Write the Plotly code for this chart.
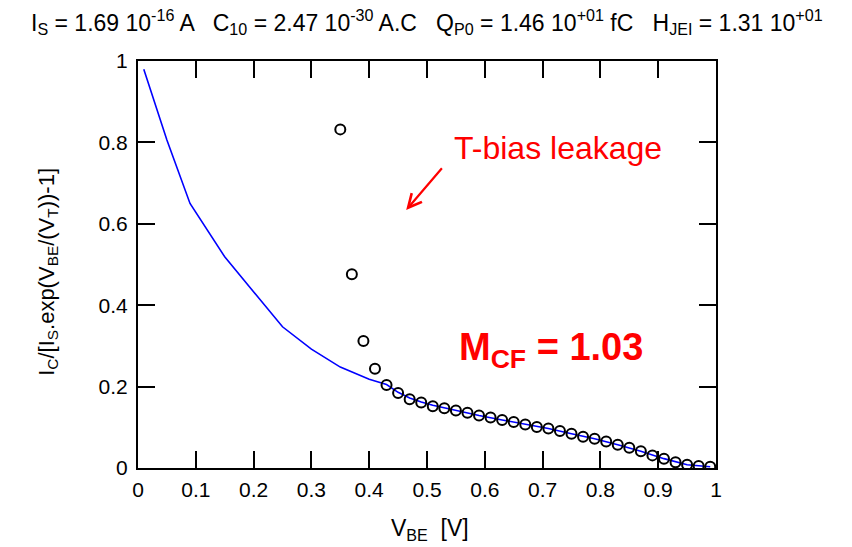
import plotly.graph_objects as go

# Measured data (open circles)
vbe_meas = [0.35, 0.37, 0.39, 0.41, 0.43, 0.45, 0.47, 0.49, 0.51, 0.53, 0.55, 0.57,
            0.59, 0.61, 0.63, 0.65, 0.67, 0.69, 0.71, 0.73, 0.75, 0.77, 0.79, 0.81,
            0.83, 0.85, 0.87, 0.89, 0.91, 0.93, 0.95, 0.97, 0.99]
ratio_meas = [0.832, 0.476, 0.312, 0.244, 0.204, 0.184, 0.169, 0.161, 0.152, 0.147, 0.141, 0.136,
              0.129, 0.124, 0.118, 0.113, 0.107, 0.101, 0.097, 0.091, 0.084, 0.077, 0.072, 0.065,
              0.057, 0.050, 0.041, 0.031, 0.023, 0.014, 0.008, 0.005, 0.003]

# Model curve (blue line)
vbe_model = [0.01, 0.05, 0.09, 0.15, 0.25, 0.30, 0.35, 0.40, 0.43, 0.45, 0.47, 0.49, 0.51,
             0.55, 0.59, 0.63, 0.67, 0.71, 0.75, 0.79, 0.83, 0.87, 0.91, 0.95, 0.99]
ratio_model = [0.980, 0.806, 0.650, 0.519, 0.347, 0.292, 0.248, 0.218, 0.205, 0.186, 0.172, 0.162, 0.154,
               0.141, 0.129, 0.118, 0.107, 0.097, 0.084, 0.072, 0.057, 0.041, 0.023, 0.008, 0.003]

x_ticks = [0, 0.1, 0.2, 0.3, 0.4, 0.5, 0.6, 0.7, 0.8, 0.9, 1]
x_ticklabels = ["0", "0.1", "0.2", "0.3", "0.4", "0.5", "0.6", "0.7", "0.8", "0.9", "1"]
y_ticks = [0, 0.2, 0.4, 0.6, 0.8, 1]
y_ticklabels = ["0", "0.2", "0.4", "0.6", "0.8", "1"]

title_text = ("I<sub>S</sub> = 1.69 10<sup>-16</sup> A   C<sub>10</sub> = 2.47 10<sup>-30</sup> A.C   "
              "Q<sub>P0</sub> = 1.46 10<sup>+01</sup> fC   H<sub>JEI</sub> = 1.31 10<sup>+01</sup>")
ytitle_text = "I<sub>C</sub>/[I<sub>S</sub>.exp(V<sub>BE</sub>/(V<sub>T</sub>))-1]"
xtitle_text = "V<sub>BE</sub>  [V]"

FONT = "Liberation Sans, Arial, sans-serif"

fig = go.Figure()
fig.add_trace(go.Scatter(x=vbe_model, y=ratio_model, mode="lines",
                         line=dict(color="#0000ff", width=1.6), showlegend=False))
fig.add_trace(go.Scatter(x=vbe_meas, y=ratio_meas, mode="markers",
                         marker=dict(symbol="circle-open", size=10, color="black",
                                     line=dict(width=2, color="black")),
                         showlegend=False))

axis_common = dict(showgrid=False, zeroline=False, showline=True, linecolor="black", linewidth=2,
                   mirror="ticks", ticks="inside", ticklen=17, tickwidth=2, tickcolor="black",
                   tickfont=dict(family=FONT, size=21, color="black"))
fig.update_xaxes(range=[0, 1], tickvals=x_ticks, ticktext=x_ticklabels, ticklabelstandoff=2,
                 **axis_common)
fig.update_yaxes(range=[0, 1], tickvals=y_ticks, ticktext=y_ticklabels, ticklabelstandoff=4,
                 **axis_common)

fig.add_annotation(x=0.5, y=1.0955, xref="paper", yref="paper", text=title_text, showarrow=False,
                   font=dict(family=FONT, size=23, color="black"), xanchor="center", yanchor="middle")
fig.add_annotation(x=-0.156, y=0.4816, xref="paper", yref="paper", text=ytitle_text, showarrow=False,
                   textangle=-90, font=dict(family=FONT, size=22, color="black"),
                   xanchor="center", yanchor="middle")
fig.add_annotation(x=0.505, y=-0.152, xref="paper", yref="paper", text=xtitle_text, showarrow=False,
                   font=dict(family=FONT, size=23, color="black"), xanchor="center", yanchor="middle")

fig.add_annotation(x=0.727, y=0.786, xref="x", yref="y", text="T-bias leakage", showarrow=False,
                   font=dict(family=FONT, size=32, color="red"))
fig.add_annotation(x=0.464, y=0.634, ax=0.528, ay=0.740, xref="x", yref="y", axref="x", ayref="y",
                   text="", showarrow=True, arrowhead=5, arrowsize=1.2, arrowwidth=2.2, arrowcolor="red")
fig.add_annotation(x=0.714, y=0.29, xref="x", yref="y",
                   text="<b>M<sub>CF</sub> = 1.03</b>", showarrow=False,
                   font=dict(family=FONT, size=38, color="red"))

fig.update_layout(width=844, height=539, margin=dict(l=130, r=136, t=53, b=79),
                  plot_bgcolor="white", paper_bgcolor="white")

fig.write_html("out.html")
